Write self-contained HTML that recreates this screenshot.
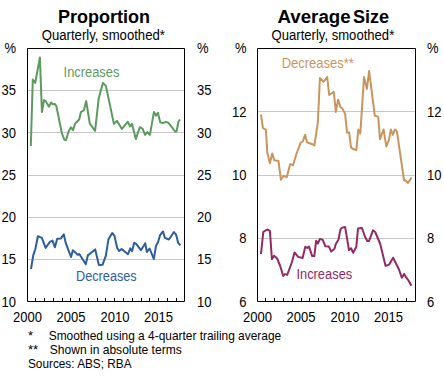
<!DOCTYPE html>
<html><head><meta charset="utf-8"><style>
html,body{margin:0;padding:0;background:#fff;}
svg{display:block;}
text{font-family:"Liberation Sans",sans-serif;font-size:13px;}
</style></head><body>
<svg width="444" height="377" viewBox="0 0 444 377">
<rect width="444" height="377" fill="#fff"/>
<path d="M28 90.5H184" stroke="#c8c8c8" stroke-width="1"/><path d="M28 132.5H184" stroke="#c8c8c8" stroke-width="1"/><path d="M28 175.5H184" stroke="#c8c8c8" stroke-width="1"/><path d="M28 217.5H184" stroke="#c8c8c8" stroke-width="1"/><path d="M28 259.5H184" stroke="#c8c8c8" stroke-width="1"/><path d="M258 111.5H415" stroke="#c8c8c8" stroke-width="1"/><path d="M258 175.5H415" stroke="#c8c8c8" stroke-width="1"/><path d="M258 238.5H415" stroke="#c8c8c8" stroke-width="1"/><polyline points="30.8,146.0 32.8,79.5 35.2,83.0 39.9,57.5 41.9,112.0 44.0,100.0 45.6,101.0 48.9,106.8 51.1,102.5 52.6,104.2 54.8,103.9 56.4,106.2 61.8,133.0 64.3,139.6 66.0,140.2 68.6,131.5 71.0,127.3 73.0,130.1 75.2,123.5 79.2,119.5 80.9,112.0 83.9,110.3 86.2,101.1 89.8,123.5 95.1,130.8 98.7,98.5 102.9,83.0 105.9,85.9 113.9,123.9 117.0,120.7 121.9,128.9 127.8,121.7 130.2,126.5 132.0,123.9 135.8,139.1 139.8,127.2 142.7,128.8 145.0,134.8 147.3,132.1 149.9,134.8 153.9,112.1 155.9,115.6 157.9,112.7 160.2,122.2 162.8,123.1 165.9,121.8 168.5,122.9 175.1,131.5 176.5,131.5 178.5,121.5 180.0,119.5" fill="none" stroke="#5c9a5f" stroke-width="2.0" stroke-linejoin="round"/><polyline points="31.0,269.0 33.3,255.1 35.3,249.2 37.9,236.2 41.9,237.9 45.6,247.9 49.9,241.9 52.5,240.6 54.9,247.2 57.2,238.8 60.7,238.6 63.8,234.4 65.8,243.2 71.0,257.0 72.9,250.2 76.2,253.2 77.6,254.8 79.3,254.0 85.8,264.2 87.9,255.1 89.9,253.8 95.2,249.4 98.9,265.1 102.5,264.8 105.8,255.8 108.5,239.2 112.2,233.0 114.4,235.6 117.2,248.0 119.1,251.0 121.6,248.9 128.0,254.2 130.3,248.4 132.0,251.2 134.2,242.8 136.2,243.9 140.9,250.2 145.2,243.3 146.9,252.0 149.6,248.5 153.8,259.0 156.0,245.8 158.0,242.2 160.2,234.8 163.0,231.5 164.9,237.8 168.9,239.5 173.9,232.0 176.2,234.9 178.2,243.1 180.5,245.2" fill="none" stroke="#2c5d9c" stroke-width="2.0" stroke-linejoin="round"/><polyline points="261.0,114.5 262.9,127.9 265.9,129.8 267.3,152.6 269.9,163.2 272.2,153.4 274.3,160.2 278.5,161.0 280.9,179.8 283.6,175.8 286.8,177.1 290.2,164.1 293.1,165.2 296.4,154.0 300.6,142.8 302.9,141.2 305.1,134.8 307.0,142.3 312.3,144.2 314.4,145.5 317.9,121.8 319.9,78.0 323.6,81.8 327.2,77.0 329.2,95.0 333.8,91.8 335.8,111.9 338.1,99.8 340.5,107.2 342.4,108.6 345.1,113.9 347.1,132.6 349.2,132.6 351.0,147.4 353.0,149.0 356.3,150.1 358.3,129.6 360.3,133.5 364.0,77.1 366.9,88.9 369.1,71.1 374.8,115.6 378.2,116.9 380.0,139.2 383.6,129.5 386.3,146.3 388.9,139.9 390.9,129.5 392.9,134.9 394.9,129.5 396.9,131.3 404.0,180.0 406.0,181.0 408.0,183.0 411.5,177.5" fill="none" stroke="#c9955e" stroke-width="2.0" stroke-linejoin="round"/><polyline points="261.0,254.0 263.3,231.9 267.3,229.5 269.9,230.9 271.9,259.1 274.0,255.7 277.2,258.6 280.2,266.0 283.2,275.9 284.9,274.1 287.2,274.9 291.8,262.5 294.5,252.5 298.2,256.9 302.6,258.0 305.3,246.8 307.3,247.9 309.0,246.6 312.2,256.1 314.3,256.1 316.2,240.7 317.9,243.5 319.9,238.9 322.8,239.9 325.2,246.2 328.9,246.6 331.2,251.5 334.5,248.8 335.8,243.9 338.5,239.5 340.5,229.3 342.4,227.6 345.1,226.9 349.0,250.1 351.0,248.2 353.2,252.8 356.3,246.8 358.0,228.5 362.0,228.0 364.9,236.5 367.3,240.9 369.1,240.9 372.9,230.3 375.2,232.0 380.1,243.5 385.6,265.9 389.2,264.6 393.1,257.7 398.9,269.2 401.8,277.8 404.2,273.9 406.1,277.4 408.5,280.5 411.4,285.8" fill="none" stroke="#932a65" stroke-width="2.0" stroke-linejoin="round"/><path d="M27.5 48.5H184.5V301.5H27.5Z" fill="none" stroke="#000" stroke-width="1"/><path d="M257.5 48.5H415.5V301.5H257.5Z" fill="none" stroke="#000" stroke-width="1"/><path d="M35.5 298V301" stroke="#000" stroke-width="1"/><path d="M44.5 298V301" stroke="#000" stroke-width="1"/><path d="M53.5 298V301" stroke="#000" stroke-width="1"/><path d="M62.5 298V301" stroke="#000" stroke-width="1"/><path d="M70.5 298V301" stroke="#000" stroke-width="1"/><path d="M79.5 298V301" stroke="#000" stroke-width="1"/><path d="M88.5 298V301" stroke="#000" stroke-width="1"/><path d="M97.5 298V301" stroke="#000" stroke-width="1"/><path d="M105.5 298V301" stroke="#000" stroke-width="1"/><path d="M114.5 298V301" stroke="#000" stroke-width="1"/><path d="M123.5 298V301" stroke="#000" stroke-width="1"/><path d="M132.5 298V301" stroke="#000" stroke-width="1"/><path d="M141.5 298V301" stroke="#000" stroke-width="1"/><path d="M149.5 298V301" stroke="#000" stroke-width="1"/><path d="M158.5 298V301" stroke="#000" stroke-width="1"/><path d="M167.5 298V301" stroke="#000" stroke-width="1"/><path d="M176.5 298V301" stroke="#000" stroke-width="1"/><path d="M265.5 298V301" stroke="#000" stroke-width="1"/><path d="M274.5 298V301" stroke="#000" stroke-width="1"/><path d="M283.5 298V301" stroke="#000" stroke-width="1"/><path d="M292.5 298V301" stroke="#000" stroke-width="1"/><path d="M301.5 298V301" stroke="#000" stroke-width="1"/><path d="M309.5 298V301" stroke="#000" stroke-width="1"/><path d="M318.5 298V301" stroke="#000" stroke-width="1"/><path d="M327.5 298V301" stroke="#000" stroke-width="1"/><path d="M336.5 298V301" stroke="#000" stroke-width="1"/><path d="M344.5 298V301" stroke="#000" stroke-width="1"/><path d="M353.5 298V301" stroke="#000" stroke-width="1"/><path d="M362.5 298V301" stroke="#000" stroke-width="1"/><path d="M371.5 298V301" stroke="#000" stroke-width="1"/><path d="M380.5 298V301" stroke="#000" stroke-width="1"/><path d="M388.5 298V301" stroke="#000" stroke-width="1"/><path d="M397.5 298V301" stroke="#000" stroke-width="1"/><path d="M406.5 298V301" stroke="#000" stroke-width="1"/>
<text x="104" y="23" text-anchor="middle" style="font-weight:bold;font-size:18px">Proportion</text><text x="277.5" y="23" style="font-weight:bold;font-size:18px" textLength="73.1" lengthAdjust="spacingAndGlyphs">Average</text><text x="353.1" y="23" style="font-weight:bold;font-size:18px">Size</text><text x="41.74" y="40" fill="#000" style="font-size:14px" textLength="123.18" lengthAdjust="spacingAndGlyphs">Quarterly, smoothed*</text><text x="271.55" y="40" fill="#000" style="font-size:14px" textLength="122.68" lengthAdjust="spacingAndGlyphs">Quarterly, smoothed*</text><text x="16" y="53" text-anchor="end" style="font-size:14px" textLength="11.56" lengthAdjust="spacingAndGlyphs">%</text><text x="197" y="53" text-anchor="start" style="font-size:14px" textLength="11.56" lengthAdjust="spacingAndGlyphs">%</text><text x="16" y="95" text-anchor="end" style="font-size:14px" textLength="14.46" lengthAdjust="spacingAndGlyphs">35</text><text x="197" y="95" text-anchor="start" style="font-size:14px" textLength="14.46" lengthAdjust="spacingAndGlyphs">35</text><text x="16" y="138" text-anchor="end" style="font-size:14px" textLength="14.46" lengthAdjust="spacingAndGlyphs">30</text><text x="197" y="138" text-anchor="start" style="font-size:14px" textLength="14.46" lengthAdjust="spacingAndGlyphs">30</text><text x="16" y="180" text-anchor="end" style="font-size:14px" textLength="14.46" lengthAdjust="spacingAndGlyphs">25</text><text x="197" y="180" text-anchor="start" style="font-size:14px" textLength="14.46" lengthAdjust="spacingAndGlyphs">25</text><text x="16" y="222" text-anchor="end" style="font-size:14px" textLength="14.46" lengthAdjust="spacingAndGlyphs">20</text><text x="197" y="222" text-anchor="start" style="font-size:14px" textLength="14.46" lengthAdjust="spacingAndGlyphs">20</text><text x="16" y="264" text-anchor="end" style="font-size:14px" textLength="14.46" lengthAdjust="spacingAndGlyphs">15</text><text x="197" y="264" text-anchor="start" style="font-size:14px" textLength="14.46" lengthAdjust="spacingAndGlyphs">15</text><text x="16" y="307" text-anchor="end" style="font-size:14px" textLength="14.46" lengthAdjust="spacingAndGlyphs">10</text><text x="197" y="307" text-anchor="start" style="font-size:14px" textLength="14.46" lengthAdjust="spacingAndGlyphs">10</text><text x="246.5" y="53" text-anchor="end" style="font-size:14px" textLength="11.56" lengthAdjust="spacingAndGlyphs">%</text><text x="427" y="53" text-anchor="start" style="font-size:14px" textLength="11.56" lengthAdjust="spacingAndGlyphs">%</text><text x="246.5" y="117" text-anchor="end" style="font-size:14px" textLength="14.46" lengthAdjust="spacingAndGlyphs">12</text><text x="427" y="117" text-anchor="start" style="font-size:14px" textLength="14.46" lengthAdjust="spacingAndGlyphs">12</text><text x="246.5" y="180" text-anchor="end" style="font-size:14px" textLength="14.46" lengthAdjust="spacingAndGlyphs">10</text><text x="427" y="180" text-anchor="start" style="font-size:14px" textLength="14.46" lengthAdjust="spacingAndGlyphs">10</text><text x="246.5" y="243" text-anchor="end" style="font-size:14px" textLength="7.23" lengthAdjust="spacingAndGlyphs">8</text><text x="427" y="243" text-anchor="start" style="font-size:14px" textLength="7.23" lengthAdjust="spacingAndGlyphs">8</text><text x="246.5" y="307" text-anchor="end" style="font-size:14px" textLength="7.23" lengthAdjust="spacingAndGlyphs">6</text><text x="427" y="307" text-anchor="start" style="font-size:14px" textLength="7.23" lengthAdjust="spacingAndGlyphs">6</text><text x="27.5" y="322" text-anchor="middle" style="font-size:14px" textLength="28.91" lengthAdjust="spacingAndGlyphs">2000</text><text x="71" y="322" text-anchor="middle" style="font-size:14px" textLength="28.91" lengthAdjust="spacingAndGlyphs">2005</text><text x="115" y="322" text-anchor="middle" style="font-size:14px" textLength="28.91" lengthAdjust="spacingAndGlyphs">2010</text><text x="158.5" y="322" text-anchor="middle" style="font-size:14px" textLength="28.91" lengthAdjust="spacingAndGlyphs">2015</text><text x="257.5" y="322" text-anchor="middle" style="font-size:14px" textLength="28.91" lengthAdjust="spacingAndGlyphs">2000</text><text x="301" y="322" text-anchor="middle" style="font-size:14px" textLength="28.91" lengthAdjust="spacingAndGlyphs">2005</text><text x="345" y="322" text-anchor="middle" style="font-size:14px" textLength="28.91" lengthAdjust="spacingAndGlyphs">2010</text><text x="388.5" y="322" text-anchor="middle" style="font-size:14px" textLength="28.91" lengthAdjust="spacingAndGlyphs">2015</text><text x="63.6" y="76.8" fill="#5c9a5f" style="font-size:14px" textLength="55.75" lengthAdjust="spacingAndGlyphs">Increases</text><text x="76.1" y="281" fill="#2c5d9c" style="font-size:14px" textLength="60.56" lengthAdjust="spacingAndGlyphs">Decreases</text><text x="281.7" y="68" fill="#c9955e" style="font-size:14px" textLength="72.22" lengthAdjust="spacingAndGlyphs">Decreases**</text><text x="296.4" y="278.8" fill="#932a65" style="font-size:14px" textLength="55.85" lengthAdjust="spacingAndGlyphs">Increases</text><text x="28" y="339.6" text-anchor="start" fill="#000" >*</text><text x="48.7" y="339.6" fill="#000" style="font-size:13px" textLength="232.47" lengthAdjust="spacingAndGlyphs">Smoothed using a 4-quarter trailing average</text><text x="28" y="353.6" text-anchor="start" fill="#000" >**</text><text x="49.8" y="353.6" fill="#000" style="font-size:13px" textLength="131.96" lengthAdjust="spacingAndGlyphs">Shown in absolute terms</text><text x="28.0" y="368.1" fill="#000" style="font-size:13px" textLength="103.5" lengthAdjust="spacingAndGlyphs">Sources: ABS; RBA</text>
</svg>
</body></html>
